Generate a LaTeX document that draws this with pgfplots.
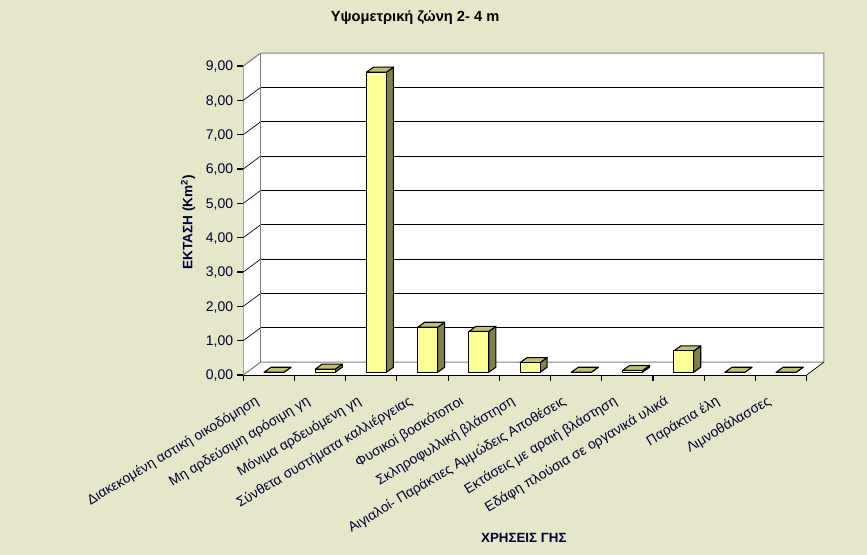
\documentclass[border=0pt]{standalone}
\usepackage{fontspec}
\setmainfont{Liberation Sans}
\usepackage{pgfplots}
\pgfplotsset{compat=1.18}
\definecolor{bgc}{RGB}{230,230,200}
\definecolor{txt}{RGB}{0,0,51}
\definecolor{frontc}{RGB}{255,255,153}
\definecolor{topc}{RGB}{192,192,115}
\definecolor{sidec}{RGB}{128,128,77}
\definecolor{wallc}{RGB}{128,128,128}
% depth of the box, in axis units
\def\dX{0.338}\def\dY{0.375}
% one 3-D bar: {category index}{value}
\newcommand\threedbar[2]{%
  \pgfmathsetmacro\xa{#1+0.405}\pgfmathsetmacro\xb{#1+0.795}%
  \pgfmathsetmacro\xc{\xa+0.137}\pgfmathsetmacro\xd{\xb+0.137}%
  \pgfmathsetmacro\ya{0.08}\pgfmathsetmacro\yb{0.08+#2}%
  \pgfmathsetmacro\yc{\ya+0.146}\pgfmathsetmacro\yd{\yb+0.146}%
  \addplot[draw=black,line width=0.8pt,fill=sidec,line join=round] coordinates {(\xb,\ya)(\xd,\yc)(\xd,\yd)(\xb,\yb)} --cycle;
  \addplot[draw=black,line width=0.8pt,fill=topc,line join=round] coordinates {(\xa,\yb)(\xb,\yb)(\xd,\yd)(\xc,\yd)} --cycle;
  \addplot[draw=black,line width=0.8pt,fill=frontc,line join=round] coordinates {(\xa,\ya)(\xb,\ya)(\xb,\yb)(\xa,\yb)} --cycle;
}
\begin{document}
\begin{tikzpicture}
\fill[bgc] (0,0) rectangle (650.25pt,416.25pt);
\useasboundingbox (0,0) rectangle (650.25pt,416.25pt);
\begin{axis}[
  at={(182.475pt,135pt)},anchor=south west,
  scale only axis,width=422.5pt,height=231.75pt,
  xmin=0,xmax=11,ymin=0,ymax=9,clip=false,
  axis lines=left,axis line style={-,black,line width=0.8pt},
  tick align=outside,major tick length=4.6pt,
  every tick/.style={black,line width=0.8pt},
  xtick={0,...,11},xticklabels={},
  extra x ticks={0.5,1.5,2.5,3.5,4.5,5.5,6.5,7.5,8.5,9.5,10.5},
  extra x tick labels={Διακεκομένη αστική οικοδόμηση,Μη αρδεύσιμη αρόσιμη γη,Μόνιμα αρδευόμενη γη,Σύνθετα συστήματα καλλιέργειας,Φυσικοί βοσκότοποι,Σκληροφυλλική βλάστηση,Αιγιαλοί- Παράκτιες Αμμώδεις Αποθέσεις,Εκτάσεις με αραιή βλάστηση,Εδάφη πλούσια σε οργανικά υλικά,Παράκτια έλη,Λιμνοθάλασσες},
  extra x tick style={major tick length=0pt,
    xticklabel style={rotate=31,anchor=north east,xshift=-13.7pt,yshift=-3.5pt,font=\fontsize{10.4}{12}\selectfont,text=txt}},
  ytick={0,...,9},
  yticklabel style={font=\fontsize{10.5}{12}\selectfont,text=txt,xshift=0.5pt,yshift=-0.7pt},
  /pgf/number format/.cd,fixed,fixed zerofill,precision=2,use comma,assume math mode=true,
  /pgfplots/.cd,
  title={Υψομετρική ζώνη 2- 4 m},
  title style={at={(axis description cs:0.305,1.13)},anchor=center,font=\fontsize{11}{13}\selectfont\bfseries,text=black},
  xlabel={ΧΡΗΣΕΙΣ ΓΗΣ},
  xlabel style={at={(axis description cs:0.498,-0.5275)},anchor=center,font=\fontsize{10}{12}\selectfont\bfseries,text=txt},
  ylabel={ΕΚΤΑΣΗ (Km\textsuperscript{2})},
  ylabel style={at={(axis description cs:-0.098,0.495)},anchor=center,rotate=0,font=\fontsize{10.2}{12}\selectfont\bfseries,text=txt},
]
% walls and floor
\addplot[fill=white,draw=none] coordinates {(0,0)(\dX,\dY)(\dX,9.375)(0,9)} --cycle;
\addplot[fill=white,draw=none] coordinates {(0,0)(11,0)(11.338,\dY)(\dX,\dY)} --cycle;
\addplot[fill=white,draw=none] coordinates {(\dX,\dY)(11.338,\dY)(11.338,9.375)(\dX,9.375)} --cycle;
% back gridlines
\pgfplotsinvokeforeach{1,...,8}{
  \pgfmathsetmacro\gy{#1+\dY}
  \addplot[black,line width=0.8pt] coordinates {(\dX,\gy)(11.338,\gy)};
  \addplot[black,line width=0.5pt] coordinates {(0,#1)(\dX,\gy)};
}
% gray frame
\addplot[wallc,line width=0.8pt] coordinates {(0,0)(\dX,\dY)(11.338,\dY)(11.338,9.375)(\dX,9.375)(0,9)};
\addplot[wallc,line width=0.8pt] coordinates {(\dX,\dY)(\dX,9.375)};
\addplot[black,line width=0.5pt] coordinates {(11,0)(11.338,\dY)};
% bars
\threedbar{0}{0.00}
\threedbar{1}{0.09}
\threedbar{2}{8.74}
\threedbar{3}{1.31}
\threedbar{4}{1.19}
\threedbar{5}{0.28}
\threedbar{6}{0.00}
\threedbar{7}{0.05}
\threedbar{8}{0.62}
\threedbar{9}{0.00}
\threedbar{10}{0.00}
\end{axis}
\end{tikzpicture}
\end{document}
